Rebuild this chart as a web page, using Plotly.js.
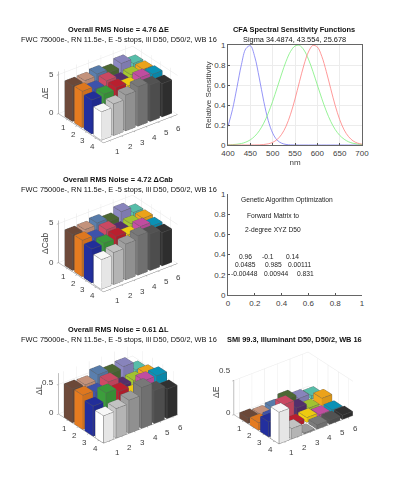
<!DOCTYPE html>
<html><head><meta charset="utf-8">
<script src="https://cdn.plot.ly/plotly-3.0.1.min.js"></script>
<style>html,body{margin:0;padding:0;background:#fff}</style></head>
<body><div id="chart" style="width:400px;height:500px"></div>
<script>
var palette = ['#6e4a3a','#c9967f','#5a7fae','#4e6b35','#8c88c2','#5ac3ae',
 '#e57b20','#3f55b0','#d04a65','#56306f','#a6c832','#f2a71b',
 '#232f9e','#3c9e3c','#c0202f','#f5d010','#c64fa5','#0a95bb',
 '#ffffff','#c8c8c8','#a0a0a0','#7c7c7c','#555555','#333333'];
var deltaE = [4.6,4.64,4.9,4.5,5.06,4.46, 4.68,4.36,4.83,4.2,4.4,4.5, 4.36,4.5,4.77,4.4,4.85,4.67, 3.64,4.06,4.6,5.05,4.7,4.27];
var deltaCab = [4.6,4.64,4.9,4.5,5.15,4.46, 4.68,4.36,4.83,4.2,4.4,4.5, 4.36,4.5,4.77,4.4,4.85,4.35, 3.8,4.1,4.6,5.05,4.7,4.27];
var deltaL = [.57,.56,.65,.59,.62,.48, .58,.55,.64,.49,.5,.53, .51,.65,.59,.47,.61,.61, .46,.5,.56,.69,.56,.5];
var smiE = [.08,.06,.08,.14,.08,.05, .11,.11,.23,.11,.04,.11, .22,.09,.06,.07,.04,.04, .46,.15,.015,.06,.06,.06];
var nm = [400,410,420,430,440,450,460,470,480,490,500,510,520,530,540,550,560,570,580,590,600,610,620,630,640,650,660,670,680,690,700];
var blueCurve = [.187,.354,.575,.803,.963,.993,.88,.67,.438,.246,.119,.049,.018,.0054,.0014,.0003,0,0,0,0,0,0,0,0,0,0,0,0,0,0,0];
var greenCurve = [.0016,.0036,.0076,.015,.029,.052,.088,.142,.218,.317,.437,.572,.71,.837,.935,.99,.996,.95,.859,.737,.6,.464,.34,.236,.155,.097,.058,.032,.017,.009,.004];
var redCurve = [0,0,0,0,0,.0002,.0006,.0017,.0047,.0115,.026,.055,.106,.188,.307,.46,.633,.8,.93,.996,.98,.886,.736,.563,.395,.255,.151,.083,.041,.019,.008];
var xTicks=[1,2,3,4,5,6], yTicks=[1,2,3,4];
var matrixRows=[['0.96','-0.1','0.14'],['0.0485','0.985','0.00111'],['-0.00448','0.00944','0.831']];
var noteLines=['Genetic Algorithm Optimization','Forward Matrix to','2-degree XYZ D50'];

var FONT='"Liberation Sans", Arial, sans-serif', TXT='#404040';
function shade(hex,f){var n=parseInt(hex.slice(1),16);return 'rgb('+[(n>>16)&255,(n>>8)&255,n&255].map(function(c){return Math.round(c*f)}).join(',')+')';}
function bars(h,scene){
 var X=[],Y=[],Z=[],I=[],J=[],K=[],FC=[],lx=[],ly=[],lz=[],w=0.4;
 var faces=[[0,1,2,3,.8],[4,5,6,7,.97],[0,1,5,4,.8],[3,2,6,7,.9],[0,3,7,4,1],[1,2,6,5,.8]];
 var edges=[[0,1],[1,2],[2,3],[3,0],[4,5],[5,6],[6,7],[7,4],[0,4],[1,5],[2,6],[3,7]];
 h.forEach(function(v,n){
  var c=n%6+1,r=Math.floor(n/6)+1,b=X.length;
  var px=[c-w,c+w,c+w,c-w,c-w,c+w,c+w,c-w],py=[r-w,r-w,r+w,r+w,r-w,r-w,r+w,r+w],pz=[0,0,0,0,v,v,v,v];
  for(var i=0;i<8;i++){X.push(px[i]);Y.push(py[i]);Z.push(pz[i]);}
  faces.forEach(function(f){
   I.push(b+f[0],b+f[0]);J.push(b+f[1],b+f[2]);K.push(b+f[2],b+f[3]);
   var col=shade(palette[n],f[4]);FC.push(col,col);});
  edges.forEach(function(e){
   lx.push(px[e[0]],px[e[1]],null);ly.push(py[e[0]],py[e[1]],null);lz.push(pz[e[0]],pz[e[1]],null);});
 });
 return [{type:'mesh3d',scene:scene,x:X,y:Y,z:Z,i:I,j:J,k:K,facecolor:FC,flatshading:true,hoverinfo:'skip',
   lighting:{ambient:1,diffuse:0,specular:0,roughness:1,fresnel:0}},
  {type:'scatter3d',mode:'lines',scene:scene,x:lx,y:ly,z:lz,line:{color:'#5a5a5a',width:1},hoverinfo:'skip',showlegend:false}];
}
function sceneCfg(cx,cy,xr,yr,zMax,zTicks,zscale){
 var W=400,H=500,dw=110,dh=80,a=[],k=1.32;
 var tf={family:FONT,size:8,color:TXT};
 var x0=xr[0]+.01;
 xTicks.forEach(function(t){a.push({x:t,y:yr[1]-.01,z:0,text:String(t),showarrow:false,font:tf,xshift:8.5,yshift:-11});});
 yTicks.forEach(function(t){a.push({x:x0,y:t,z:0,text:String(t),showarrow:false,font:tf,xshift:-4,yshift:-8.5});});
 var axis=function(o){return Object.assign({showbackground:false,showgrid:true,gridcolor:'#e8e8e8',gridwidth:1,showline:true,linecolor:'#808080',linewidth:1,zeroline:false,
   showticklabels:false,ticks:'outside',ticklen:2,tickcolor:'#808080',title:{text:''},showspikes:false},o);};
 var e=1.75;
 return {domain:{x:[(cx-dw)/W,(cx+dw)/W],y:[1-(cy+dh)/H,1-(cy-dh)/H]},
  aspectmode:'manual',aspectratio:{x:.885*k,y:.70*k,z:zscale*k},
  camera:{projection:{type:'orthographic'},eye:{x:-.609*e,y:-.793*e,z:.577*e},up:{x:0,y:0,z:1},center:{x:0,y:0,z:0}},
  xaxis:axis({range:xr,tickvals:xTicks}),
  yaxis:axis({range:[yr[1],yr[0]],tickvals:yTicks}),
  zaxis:axis({range:[0,zMax],tickvals:zTicks}),
  annotations:a};
}
var data=[].concat(bars(deltaE,'scene'),bars(deltaCab,'scene2'),bars(deltaL,'scene3'),bars(smiE,'scene4'));
function curve(y,c){return {type:'scatter',mode:'lines',x:nm,y:y,xaxis:'x',yaxis:'y',line:{color:c,width:.8,shape:'spline'},hoverinfo:'skip',showlegend:false};}
data.push(curve(blueCurve,'#7a7af5'),curve(greenCurve,'#7cf07c'),curve(redCurve,'#ff7f7f'));
data.push({type:'scatter',mode:'none',x:[0,1],y:[0,1],xaxis:'x2',yaxis:'y2',hoverinfo:'skip',showlegend:false});

var ann=[];
function t(cx,y,text,bold){ann.push({xref:'paper',yref:'paper',x:cx/400,y:1-y/500,xanchor:'center',yanchor:'middle',showarrow:false,text:bold?'<b>'+text+'</b>':text,font:{family:FONT,size:7.4,color:'#111111'}});}
var sub='FWC 75000e-, RN 11.5e-, E -5 stops, Ill D50, D50/2, WB 16';
t(118,29,'Overall RMS Noise = 4.76 ΔE',true);t(119,40,sub);
t(118,179,'Overall RMS Noise = 4.72 ΔCab',true);t(119,189,sub);
t(118,329,'Overall RMS Noise = 0.61 ΔL',true);t(119,339,sub);
t(294,29,'CFA Spectral Sensitivity Functions',true);t(294,39.5,'Sigma 34.4874, 43.554, 25.678');
t(294,339,'SMI 99.3, Illuminant D50, D50/2, WB 16',true);
function zt(right,y,text){ann.push({xref:'paper',yref:'paper',x:right/400,y:1-y/500,xanchor:'right',yanchor:'middle',showarrow:false,borderpad:0,text:text,font:{family:FONT,size:8,color:TXT}});}
function zl(x,y,text){ann.push({xref:'paper',yref:'paper',x:x/400,y:1-y/500,xanchor:'center',yanchor:'middle',showarrow:false,textangle:-90,text:text,font:{family:FONT,size:8.5,color:TXT}});}
zt(55,113,'0');zt(55,74,'5');zl(45,93,'ΔE');
zt(55,262,'0');zt(55,223,'5');zl(45,243,'ΔCab');
zt(55,412,'0');zt(55,382,'0.5');zl(39,390,'ΔL');
zt(232,412,'0');zt(232,370,'0.5');zl(216,392,'ΔE');
function d(x,y,text){ann.push({xref:'x2',yref:'y2',x:x,y:y,xanchor:'center',yanchor:'middle',showarrow:false,text:text,font:{family:FONT,size:6.7,color:'#222222'}});}
d(.44,.94,noteLines[0]);d(.333,.79,noteLines[1]);d(.333,.64,noteLines[2]);
var mx=[[.13,.30,.48],[.13,.34,.53],[.125,.36,.575]],my=[.38,.30,.21];
matrixRows.forEach(function(r,i){r.forEach(function(s,j){d(mx[i][j],my[i],s);});});

var tick={family:FONT,size:8,color:TXT};
var layout={width:400,height:500,margin:{l:0,r:0,t:0,b:0},paper_bgcolor:'#fff',plot_bgcolor:'#fff',showlegend:false,annotations:ann,
 scene:sceneCfg(118,93,[.5,6.6],[.05,4.75],5.4,[0,5],.46),
 scene2:sceneCfg(118,242,[.5,6.6],[.05,4.75],5.4,[0,5],.46),
 scene3:sceneCfg(118,394,[.58,6.42],[.07,4.42],.69,[0,.5],.445),
 scene4:sceneCfg(295.5,397.5,[.58,6.42],[.07,4.42],.5,[0,.5],.374),
 xaxis:{domain:[228/400,362/400],anchor:'y',range:[400,700],tickvals:[400,450,500,550,600,650,700],ticks:'inside',ticklen:2,tickcolor:'#555',tickfont:tick,showgrid:true,gridcolor:'#ececec',gridwidth:1,showline:true,mirror:true,linecolor:'#666',linewidth:1,zeroline:false,title:{text:'nm',font:{family:FONT,size:8,color:TXT},standoff:2}},
 yaxis:{domain:[1-145/500,1-45/500],anchor:'x',range:[0,1],tickvals:[0,.2,.4,.6,.8,1],ticktext:['0','0.2','0.4','0.6','0.8','1'],ticks:'inside',ticklen:2,tickcolor:'#555',tickfont:tick,showgrid:true,gridcolor:'#ececec',gridwidth:1,showline:true,mirror:true,linecolor:'#666',linewidth:1,zeroline:false,title:{text:'Relative Sensitivity',font:{family:FONT,size:8,color:TXT},standoff:1}},
 xaxis2:{domain:[228/400,362/400],anchor:'y2',range:[0,1],tickvals:[0,.2,.4,.6,.8,1],ticktext:['0','0.2','0.4','0.6','0.8','1'],ticks:'inside',ticklen:2,tickcolor:'#555',tickfont:tick,showgrid:false,showline:true,linecolor:'#666',linewidth:1,zeroline:false},
 yaxis2:{domain:[1-295/500,1-194/500],anchor:'x2',range:[0,1],tickvals:[0,.2,.4,.6,.8,1],ticktext:['0','0.2','0.4','0.6','0.8','1'],ticks:'inside',ticklen:2,tickcolor:'#555',tickfont:tick,showgrid:false,showline:true,linecolor:'#666',linewidth:1,zeroline:false}
};
Plotly.newPlot('chart',data,layout,{displayModeBar:false});
</script></body></html>
